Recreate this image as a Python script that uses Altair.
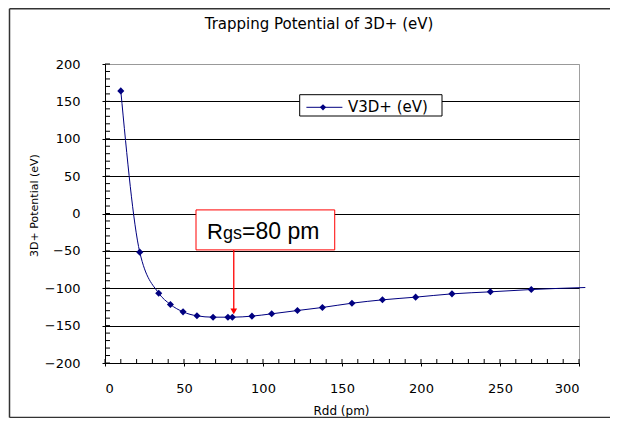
import altair as alt
import pandas as pd

# ---- data ----
rdd = [10, 22, 34, 41.4, 49.4, 58.2, 68.4, 77.8, 80.6, 93, 105.5, 121.8,
       137.6, 156.3, 175.6, 196.6, 219.6, 243.9, 269.8]
v3d = [164, -51.7, -106.6, -121.7, -131.6, -136.9, -138.7, -138.7, -138.7,
       -137.3, -134.2, -129.8, -125.7, -120.0, -115.5, -111.9, -107.5,
       -104.8, -101.7]
tail_rdd = [304]
tail_v = [-99]

x_major = [0, 50, 100, 150, 200, 250, 300]
y_major = [-200, -150, -100, -50, 0, 50, 100, 150, 200]
x_minor = list(range(0, 301, 10))
y_minor = list(range(-200, 201, 10))

series_name = ["V3D+ (eV)"]
chart_title = ["Trapping Potential of 3D+ (eV)"]

# annotation (data units)
ann_box_x = [57.6, 145.4]
ann_box_y = [4.8, -48.7]
ann_arrow_x = [81.5]
ann_arrow_y = [-48.7, -131.0]
ann_parts = ["R", "gs", "=80 pm"]
ann_parts_x = [64.6, 74.7, 86.7]
ann_parts_y = [-34.4, -34.4, -34.4]
ann_parts_size = [22, 18, 23]

NAVY = "#000080"
FONT = "DejaVu Sans"

W, H = 474, 299
x_scale = alt.Scale(domain=[0, 300], nice=False, zero=False)
y_scale = alt.Scale(domain=[-200, 200], nice=False, zero=False)

X_AXIS = alt.Axis(
    values=x_major, format="d", title="Rdd (pm)", grid=False,
    labelFont=FONT, labelFontSize=13, labelColor="black", labelPadding=16,
    tickSize=3, tickColor="black", tickWidth=1,
    domainColor="black", domainWidth=1,
    titleFont=FONT, titleFontSize=12, titleFontWeight="normal", titleColor="black",
    titleX=236, titleY=47, titleAlign="center", titleBaseline="middle")
Y_AXIS = alt.Axis(
    values=y_major, format="d", title="3D+ Potential (eV)", grid=True,
    gridColor={"condition": {"test": "datum.value === 200", "value": "#999999"}, "value": "black"},
    gridWidth=1, gridOpacity=1,
    labelFont=FONT, labelFontSize=13, labelColor="black", labelPadding=22,
    tickSize=3, tickColor="black", tickWidth=1,
    domainColor="black", domainWidth=1,
    titleFont=FONT, titleFontSize=11, titleFontWeight="normal", titleColor="black",
    titleX=-71, titleY=141, titleAngle=270, titleAlign="center", titleBaseline="middle")


def X(field="rdd"):
    return alt.X(f"{field}:Q", scale=x_scale, axis=X_AXIS)


def Y(field="v"):
    return alt.Y(f"{field}:Q", scale=y_scale, axis=Y_AXIS)


df = pd.DataFrame({
    "rdd": rdd + tail_rdd,
    "v": v3d + tail_v,
    "marker": [True] * len(rdd) + [False] * len(tail_rdd),
})

one = pd.DataFrame({"k": [0]})

# outer chart frame (pixel decoration): left, top, bottom edges
fr_left = alt.Chart(one).mark_rule(color="#333333", strokeWidth=1.5).encode(
    x=alt.value(-95.5), y=alt.value(-55.3), y2=alt.value(353.5))
fr_top = alt.Chart(one).mark_rule(color="#333333", strokeWidth=1.5).encode(
    x=alt.value(-95.5), x2=alt.value(505), y=alt.value(-55.3))
fr_bot = alt.Chart(one).mark_rule(color="#333333", strokeWidth=1.5).encode(
    x=alt.value(-95.5), x2=alt.value(505), y=alt.value(353.5))

line = alt.Chart(df).mark_line(color=NAVY, strokeWidth=1, interpolate="monotone", clip=False).encode(
    x=X(), y=Y())

points = alt.Chart(df).transform_filter("datum.marker").mark_point(
    shape="diamond", filled=True, size=50, color=NAVY, opacity=1).encode(x=X(), y=Y())

# inward ticks
xt = alt.Chart(pd.DataFrame({"rdd": x_minor})).mark_rule(color="black", strokeWidth=1).encode(
    x=X(), y=alt.value(H), y2=alt.value(H - 4))
yt = alt.Chart(pd.DataFrame({"v": y_minor})).mark_rule(color="black", strokeWidth=1).encode(
    y=Y(), x=alt.value(0), x2=alt.value(5))

# title as text
title = alt.Chart(pd.DataFrame({"s": chart_title})).mark_text(
    font=FONT, fontSize=15, color="black", align="center", baseline="middle").encode(
    text="s:N", x=alt.value(214), y=alt.value(-40))

# legend
leg_df = pd.DataFrame({"s": series_name})
leg_box = alt.Chart(leg_df).mark_rect(fill="white", stroke="black", strokeWidth=1).encode(
    x=alt.value(194.7), x2=alt.value(337), y=alt.value(30.7), y2=alt.value(52))
leg_line = alt.Chart(leg_df).mark_rule(color=NAVY, strokeWidth=1).encode(
    x=alt.value(201.4), x2=alt.value(237.4), y=alt.value(43.3))
leg_pt = alt.Chart(leg_df).mark_point(shape="diamond", filled=True, size=40, color=NAVY, opacity=1).encode(
    x=alt.value(218), y=alt.value(43.3))
leg_txt = alt.Chart(leg_df).mark_text(font=FONT, fontSize=15, color="black", align="left", baseline="middle").encode(
    text="s:N", x=alt.value(243), y=alt.value(43.3))

# annotation
box_df = pd.DataFrame({"rdd": [ann_box_x[0]], "rdd2": [ann_box_x[1]], "v": [ann_box_y[0]], "v2": [ann_box_y[1]]})
ann_box = alt.Chart(box_df).mark_rect(fill="white", stroke="#ff0000", strokeWidth=1).encode(
    x=X(), x2="rdd2:Q", y=Y(), y2="v2:Q")
arr_df = pd.DataFrame({"rdd": ann_arrow_x, "v": [ann_arrow_y[0]], "v2": [ann_arrow_y[1]]})
ann_arrow = alt.Chart(arr_df).mark_rule(color="#ff0000", strokeWidth=1.3).encode(
    x=X(), y=Y(), y2="v2:Q")
head_df = pd.DataFrame({"rdd": ann_arrow_x, "v": [ann_arrow_y[1]]})
ann_head = alt.Chart(head_df).mark_point(shape="triangle-down", filled=True, size=45, color="#ff0000", opacity=1).encode(
    x=X(), y=Y())
txt_df = pd.DataFrame({"s": ann_parts, "rdd": ann_parts_x, "v": ann_parts_y, "fs": ann_parts_size})
ann_txt = alt.Chart(txt_df).mark_text(font="Liberation Sans", color="black", align="left", baseline="alphabetic").encode(
    text="s:N", x=X(), y=Y(),
    size=alt.Size("fs:Q", scale=None, legend=None))

chart = alt.layer(
    fr_left, fr_top, fr_bot, line, points, xt, yt, title, leg_box, leg_line, leg_pt, leg_txt,
    ann_box, ann_arrow, ann_head, ann_txt
).properties(
    width=W, height=H,
    autosize=alt.AutoSizeParams(type="none"),
    padding={"left": 97, "top": 56, "right": 31, "bottom": 55},
).configure_view(stroke="#a0a0a0", strokeWidth=1)

chart.save("out.html", embed_options={"renderer": "svg", "actions": False})
